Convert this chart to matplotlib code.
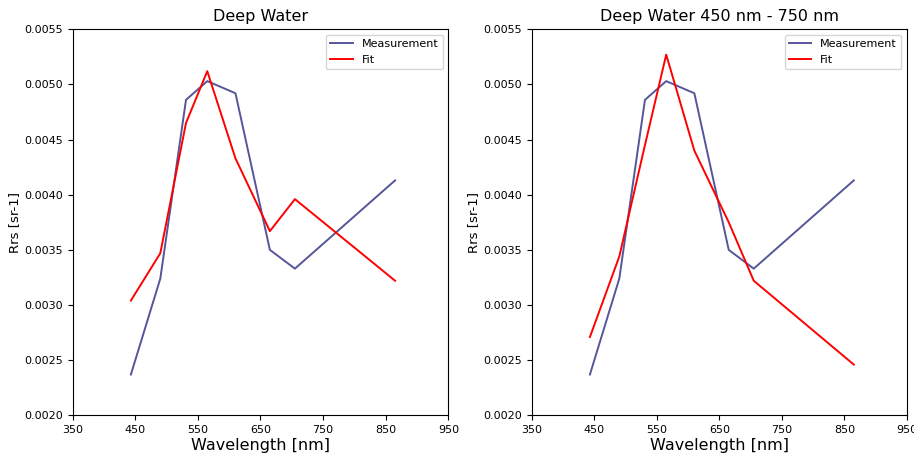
import matplotlib
matplotlib.use("Agg")
import matplotlib.pyplot as plt

# band centres [nm]
wavelength = [443, 490, 531, 565, 610, 665, 705, 865]

# measured Rrs (same for both panels)
measurement = [0.00237, 0.00324, 0.00486, 0.00503, 0.00492, 0.00350, 0.00333, 0.00413]

# fit over all bands
fit_all = [0.00304, 0.00347, 0.00465, 0.00512, 0.00433, 0.00367, 0.00396, 0.00322]

# fit over 450 - 750 nm
fit_range = [0.00271, 0.00344, 0.00445, 0.00527, 0.00440, 0.00375, 0.00322, 0.00246]

titles = ["Deep Water", "Deep Water 450 nm - 750 nm"]
fits = [fit_all, fit_range]

meas_color = "#55559a"
fit_color = "red"

fig = plt.figure(figsize=(9.14, 4.54), dpi=100)
ax1 = fig.add_axes([0.0795, 0.0852, 0.411, 0.8503])
ax2 = fig.add_axes([0.5818, 0.0852, 0.4105, 0.8503])

for ax, title, fit in zip([ax1, ax2], titles, fits):
    ax.plot(wavelength, measurement, color=meas_color, lw=1.4, label="Measurement")
    ax.plot(wavelength, fit, color=fit_color, lw=1.4, label="Fit")
    ax.set_xlim(350, 950)
    ax.set_ylim(0.0020, 0.0055)
    ax.set_xticks(range(350, 951, 100))
    ax.set_yticks([0.0020 + 0.0005 * i for i in range(8)])
    ax.set_yticklabels(["%.4f" % (0.0020 + 0.0005 * i) for i in range(8)])
    ax.tick_params(labelsize=8)
    ax.set_title(title, fontsize=11.5)
    ax.set_xlabel("Wavelength [nm]", fontsize=11.5, labelpad=2)
    ax.set_ylabel("Rrs [sr-1]", fontsize=9.5, labelpad=2)
    ax.legend(loc="upper right", fontsize=8)

fig.savefig("out.png", dpi=100)
